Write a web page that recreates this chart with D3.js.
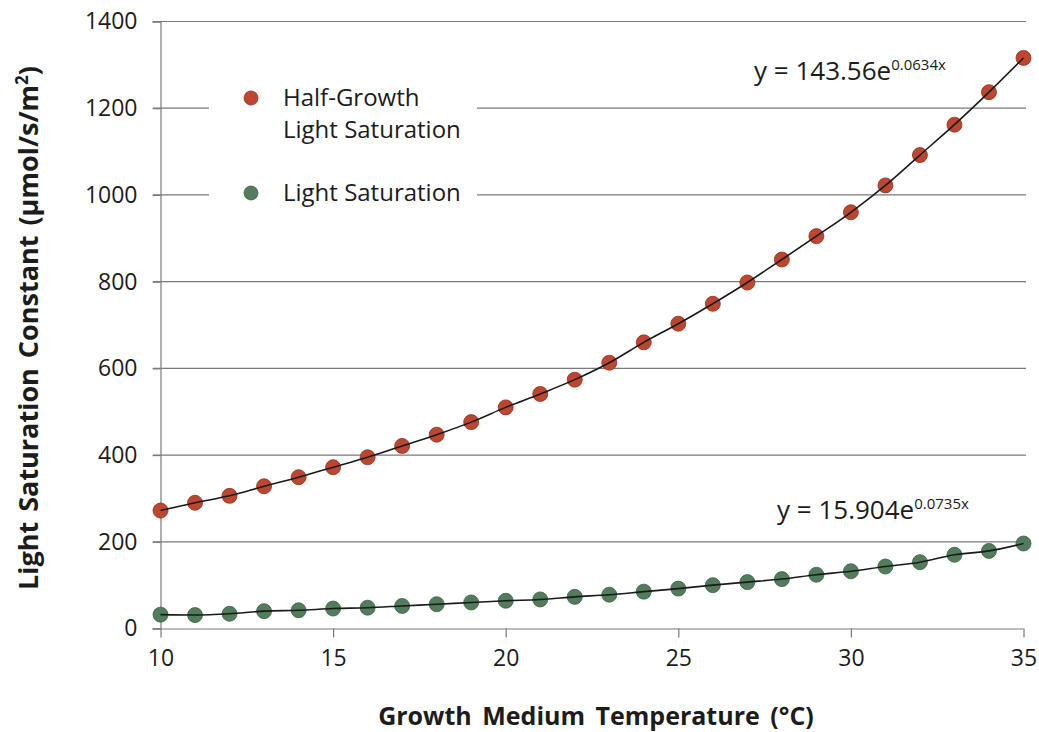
<!DOCTYPE html>
<html>
<head>
<meta charset="utf-8">
<script src="https://cdn.jsdelivr.net/npm/d3@7"></script>
<style>
  html, body { margin: 0; padding: 0; background: #fff; }
  svg { display: block; }
  text { font-family: "Open Sans", "DejaVu Sans", sans-serif; fill: #1c1c1c; }
</style>
</head>
<body>
<svg id="chart" width="1039" height="732"></svg>
<script>
// Growth medium temperatures (°C)
const temperatures = [10, 11, 12, 13, 14, 15, 16, 17, 18, 19, 20, 21, 22,
                      23, 24, 25, 26, 27, 28, 29, 30, 31, 32, 33, 34, 35];

// Half-growth light saturation constant (µmol/s/m²)
const halfGrowthSat = [272, 290, 306, 328, 349, 372, 395, 421, 447, 476, 510, 541, 574,
                       613, 660, 703, 749, 798, 851, 905, 960, 1022, 1092, 1162, 1237, 1316];

// Light saturation constant (µmol/s/m²)
const lightSat = [32, 31, 34, 40, 42, 46, 48, 52, 56, 60, 64, 67, 73,
                  78, 85, 92, 100, 107, 114, 124, 132, 143, 153, 170, 179, 196];

const xTicks = [10, 15, 20, 25, 30, 35];
const yTicks = [0, 200, 400, 600, 800, 1000, 1200, 1400];

const seriesNames = ["Half-Growth|Light Saturation", "Light Saturation"];
const seriesColors = ["#bd4630", "#527c5c"];
const seriesStroke = ["#8e2f1c", "#3c6046"];
const fitLabels = [
  { base: "y = 143.56e", exp: "0.0634x" },
  { base: "y = 15.904e", exp: "0.0735x" }
];

const svg = d3.select("#chart");

const x = d3.scaleLinear().domain([10, 35]).range([160.5, 1023.5]);
const y = d3.scaleLinear().domain([0, 1400]).range([628.5, 21.5]);

// Horizontal gridlines
svg.append("g")
  .selectAll("line")
  .data(yTicks.filter(d => d > 0))
  .join("line")
  .attr("x1", 153).attr("x2", 1026)
  .attr("y1", d => y(d)).attr("y2", d => y(d))
  .attr("stroke", "#7a7a7a").attr("stroke-width", 1.2);

// Y axis
const yAxis = svg.append("g")
  .attr("transform", `translate(${x(10)},0)`)
  .call(d3.axisLeft(y).tickValues(yTicks).tickSize(8).tickPadding(15).tickFormat(d3.format("d")));
yAxis.select(".domain").attr("stroke", "#7a7a7a").attr("stroke-width", 1.2);
yAxis.selectAll(".tick line").attr("stroke", "#7a7a7a").attr("stroke-width", 1.2);
yAxis.selectAll("text").style("font-size", "23px").attr("fill", "#1c1c1c")
  .style("font-family", '"Open Sans", sans-serif');

// X axis
const xAxis = svg.append("g")
  .attr("transform", `translate(0,${y(0)})`)
  .call(d3.axisBottom(x).tickValues(xTicks).tickSize(9).tickPadding(12).tickFormat(d3.format("d")));
xAxis.select(".domain").attr("stroke", "#7a7a7a").attr("stroke-width", 1.2)
  .attr("d", `M153,0.5H${x(35)}`);
xAxis.selectAll(".tick line").attr("stroke", "#7a7a7a").attr("stroke-width", 1.2);
xAxis.selectAll("text").style("font-size", "23px").attr("fill", "#1c1c1c")
  .style("font-family", '"Open Sans", sans-serif');

// Axis titles
svg.append("text")
  .attr("x", 596).attr("y", 725)
  .attr("text-anchor", "middle")
  .style("font-size", "25px").style("font-weight", "bold")
  .style("word-spacing", "4px")
  .text("Growth Medium Temperature (°C)");

const yTitle = svg.append("text")
  .attr("transform", "translate(38,328) rotate(-90)")
  .attr("text-anchor", "middle")
  .style("font-size", "27px").style("font-weight", "bold")
  .style("word-spacing", "3px");
yTitle.append("tspan").text("Light Saturation Constant (µmol/s/m");
yTitle.append("tspan").attr("dy", -10).style("font-size", "17px").text("2");
yTitle.append("tspan").attr("dy", 10).text(")");

// Legend (white box hides gridlines behind it)
const legend = svg.append("g");
legend.append("rect")
  .attr("x", 209).attr("y", 62).attr("width", 268).attr("height", 162)
  .attr("fill", "#fff");
const legendY = [98, 193];
seriesNames.forEach((name, i) => {
  legend.append("circle")
    .attr("cx", 251).attr("cy", legendY[i]).attr("r", 7)
    .attr("fill", seriesColors[i]).attr("stroke", seriesStroke[i]).attr("stroke-width", 0.8);
  const lines = name.split("|");
  lines.forEach((ln, j) => {
    legend.append("text")
      .attr("x", 283).attr("y", legendY[i] + 8 + j * 32)
      .style("font-size", "24px")
      .text(ln);
  });
});

// Series: trend lines and markers
const seriesData = [halfGrowthSat, lightSat];
const lineGen = d3.line()
  .x(d => x(d[0])).y(d => y(d[1]))
  .curve(d3.curveMonotoneX);

seriesData.forEach((vals, i) => {
  const pts = temperatures.map((t, k) => [t, vals[k]]);
  svg.append("g").selectAll("circle")
    .data(pts)
    .join("circle")
    .attr("cx", d => x(d[0])).attr("cy", d => y(d[1]))
    .attr("r", 7.5)
    .attr("fill", seriesColors[i])
    .attr("stroke", seriesStroke[i]).attr("stroke-width", 0.8);
  svg.append("path")
    .datum(pts)
    .attr("d", lineGen)
    .attr("fill", "none")
    .attr("stroke", "#1a1a1a").attr("stroke-width", 1.6);
});

// Trend line equations
const eqPos = [[754, 80], [777, 519]];
fitLabels.forEach((f, i) => {
  const t = svg.append("text")
    .attr("x", eqPos[i][0]).attr("y", eqPos[i][1])
    .style("font-size", "26px");
  t.append("tspan").text(f.base);
  t.append("tspan").attr("dy", -10).style("font-size", "15px").text(f.exp);
});
</script>
</body>
</html>
